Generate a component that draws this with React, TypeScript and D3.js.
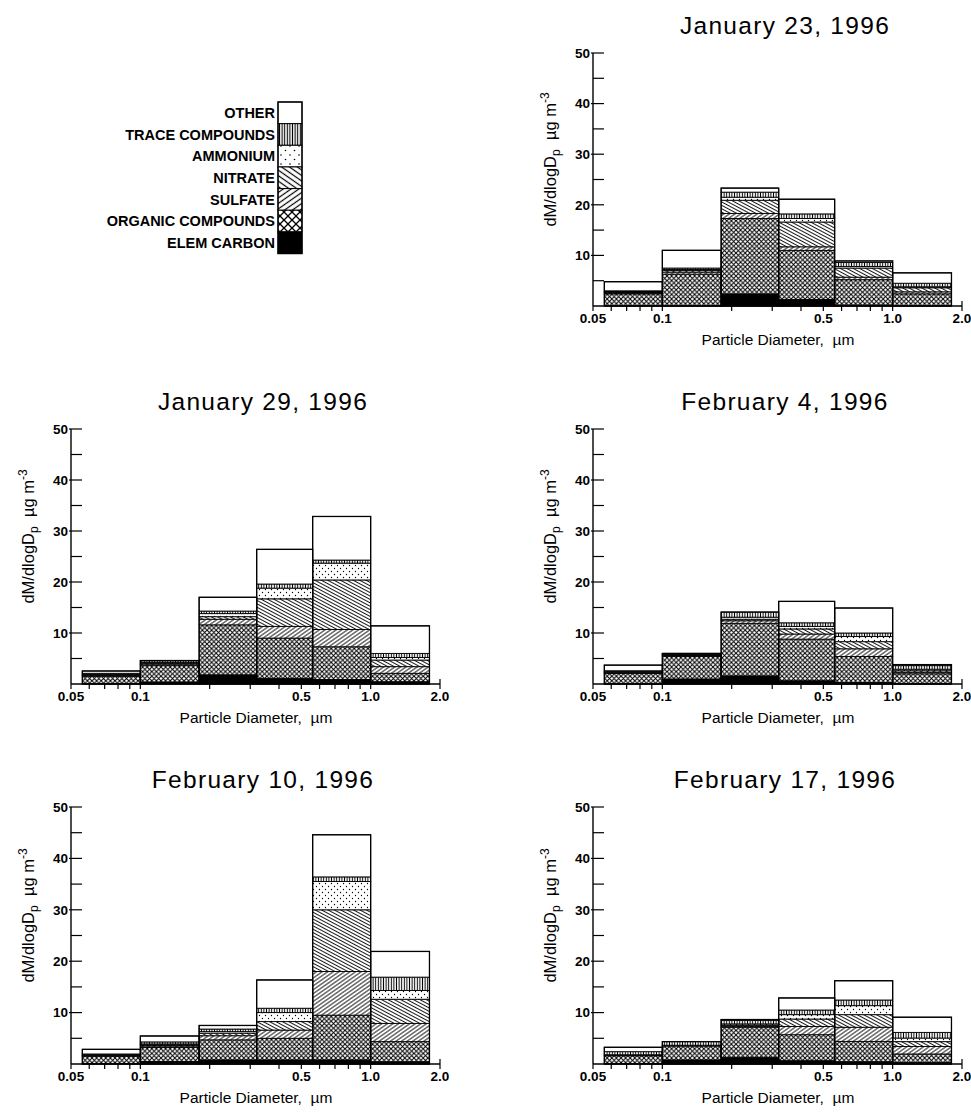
import React from "react";
import * as d3 from "d3";

// ---------- data ----------
const BIN_EDGES = [0.056, 0.1, 0.18, 0.32, 0.56, 1.0, 1.8];
const COMPONENTS = ["EC", "OC", "SO4", "NO3", "NH4", "TRACE", "OTHER"];
const LEGEND_LABELS = ["ELEM CARBON", "ORGANIC COMPOUNDS", "SULFATE", "NITRATE", "AMMONIUM", "TRACE COMPOUNDS", "OTHER"];
const X_MAJOR_TICKS = [0.05, 0.1, 0.5, 1.0, 2.0];
const X_MAJOR_LABELS = ["0.05", "0.1", "0.5", "1.0", "2.0"];
const X_MINOR_TICKS = [0.06, 0.07, 0.08, 0.09, 0.2, 0.3, 0.4, 0.6, 0.7, 0.8, 0.9];
const Y_TICKS = [5, 10, 15, 20, 25, 30, 35, 40, 45, 50];
const Y_LABELS = [10, 20, 30, 40, 50];
const TITLES = ["January 23, 1996", "January 29, 1996", "February 4, 1996", "February 10, 1996", "February 17, 1996"];

// rows: EC, OC, SO4, NO3, NH4, TRACE, OTHER ; columns: 6 size bins
const JAN23 = [
  [0.1, 0.1, 2.4, 1.3, 0.2, 0.1],
  [2.3, 6.2, 14.9, 9.7, 5.0, 2.3],
  [0.2, 0.4, 1.0, 0.7, 0.5, 0.4],
  [0.15, 0.3, 2.6, 4.9, 1.8, 0.8],
  [0.1, 0.2, 0.6, 0.7, 0.3, 0.2],
  [0.15, 0.3, 1.0, 0.9, 0.8, 0.7],
  [1.8, 3.5, 0.8, 2.9, 0.3, 2.05],
];
const JAN29 = [
  [0.1, 0.4, 1.8, 1.1, 0.9, 0.45],
  [1.4, 3.2, 9.8, 7.9, 6.4, 1.65],
  [0.2, 0.3, 1.1, 2.3, 3.4, 1.3],
  [0.1, 0.2, 0.5, 5.4, 9.7, 1.3],
  [0.1, 0.2, 0.6, 2.1, 3.3, 0.5],
  [0.2, 0.3, 0.5, 0.8, 0.6, 0.8],
  [0.45, 0, 2.7, 6.8, 8.55, 5.4],
];
const FEB04 = [
  [0.05, 1.0, 1.6, 0.65, 0.3, 0.1],
  [2.0, 4.4, 10.3, 8.15, 5.1, 1.9],
  [0.15, 0.2, 0.5, 1.0, 1.5, 0.3],
  [0.1, 0.1, 0.3, 1.0, 1.4, 0.3],
  [0.1, 0.1, 0.4, 0.5, 1.0, 0.3],
  [0.2, 0.2, 1.0, 0.7, 0.7, 0.7],
  [1.1, 0, 0, 4.2, 4.9, 0.2],
];
const FEB10 = [
  [0.1, 0.5, 0.8, 0.8, 0.8, 0.45],
  [1.4, 2.7, 3.9, 4.2, 8.7, 3.9],
  [0.1, 0.3, 0.8, 1.6, 8.5, 3.55],
  [0.1, 0.2, 0.5, 1.65, 12.0, 4.7],
  [0.05, 0.2, 0.3, 1.75, 5.5, 1.7],
  [0.2, 0.4, 0.5, 0.85, 0.9, 2.6],
  [0.9, 1.15, 0.7, 5.5, 8.2, 5.0],
];
const FEB17 = [
  [0.1, 0.8, 1.3, 0.65, 0.45, 0.3],
  [1.5, 2.7, 5.85, 5.05, 3.95, 1.65],
  [0.1, 0.05, 0.2, 1.6, 2.75, 1.45],
  [0.05, 0.05, 0.2, 1.45, 2.45, 0.95],
  [0.05, 0.05, 0.25, 0.85, 1.75, 0.7],
  [0.6, 0.7, 0.65, 0.9, 1.1, 1.1],
  [0.85, 0, 0.2, 2.35, 3.75, 2.95],
];
const DATASETS = [JAN23, JAN29, FEB04, FEB10, FEB17];

// ---------- layout ----------
const COL_X = [71, 593];
const ROW_TOP = [53, 429, 807];
const ROW_BOT = [306, 684, 1064];
const PANEL_POS = [
  [1, 0],
  [0, 1],
  [1, 1],
  [0, 2],
  [1, 2],
];
const AXIS_W = 369;
const FONT = "'Liberation Sans', Arial, Helvetica, sans-serif";

const PAT = ["pEC", "pOC", "pSO4", "pNO3", "pNH4", "pTR", "pOT"];
const PAT_L = ["pEC", "lOC", "lSO4", "lNO3", "lNH4", "lTR", "pOT"];

function Defs() {
  return (
    <defs>
      <pattern id="pEC" width="4" height="4" patternUnits="userSpaceOnUse">
        <rect width="4" height="4" fill="#000" />
      </pattern>
      <pattern id="pOT" width="4" height="4" patternUnits="userSpaceOnUse">
        <rect width="4" height="4" fill="#fff" />
      </pattern>
      <pattern id="pOC" width="4.6" height="4.6" patternUnits="userSpaceOnUse">
        <rect width="4.6" height="4.6" fill="#fff" />
        <path d="M0,0L4.6,4.6M4.6,0L0,4.6" stroke="#000" strokeWidth="1" />
      </pattern>
      <pattern id="pNO3" width="6" height="3" patternUnits="userSpaceOnUse" patternTransform="rotate(28)">
        <rect width="6" height="3" fill="#fff" />
        <path d="M0,1.5H6" stroke="#000" strokeWidth="0.9" />
      </pattern>
      <pattern id="pSO4" width="6" height="3.2" patternUnits="userSpaceOnUse" patternTransform="rotate(-35)">
        <rect width="6" height="3.2" fill="#fff" />
        <path d="M0,1.6H6" stroke="#000" strokeWidth="0.9" />
      </pattern>
      <pattern id="pNH4" width="6" height="6" patternUnits="userSpaceOnUse">
        <rect width="6" height="6" fill="#fff" />
        <circle cx="1.5" cy="1.5" r="0.65" fill="#000" />
        <circle cx="4.5" cy="4.5" r="0.65" fill="#000" />
      </pattern>
      <pattern id="pTR" width="2.6" height="6" patternUnits="userSpaceOnUse">
        <rect width="2.6" height="6" fill="#fff" />
        <path d="M1.3,0V6" stroke="#000" strokeWidth="1" />
      </pattern>
      {/* legend (larger) */}
      <pattern id="lOC" width="8" height="8" patternUnits="userSpaceOnUse">
        <rect width="8" height="8" fill="#fff" />
        <path d="M0,0L8,8M8,0L0,8" stroke="#000" strokeWidth="1.3" />
      </pattern>
      <pattern id="lNO3" width="8" height="4.5" patternUnits="userSpaceOnUse" patternTransform="rotate(35)">
        <rect width="8" height="4.5" fill="#fff" />
        <path d="M0,2.25H8" stroke="#000" strokeWidth="1.2" />
      </pattern>
      <pattern id="lSO4" width="8" height="4.5" patternUnits="userSpaceOnUse" patternTransform="rotate(-35)">
        <rect width="8" height="4.5" fill="#fff" />
        <path d="M0,2.25H8" stroke="#000" strokeWidth="1.2" />
      </pattern>
      <pattern id="lNH4" width="9" height="9" patternUnits="userSpaceOnUse">
        <rect width="9" height="9" fill="#fff" />
        <circle cx="2" cy="2" r="0.8" fill="#000" />
        <circle cx="6.5" cy="6.5" r="0.8" fill="#000" />
      </pattern>
      <pattern id="lTR" width="2.6" height="8" patternUnits="userSpaceOnUse">
        <rect width="2.6" height="8" fill="#fff" />
        <path d="M1.3,0V8" stroke="#000" strokeWidth="1.1" />
      </pattern>
    </defs>
  );
}

function Panel({ idx }: { idx: number }) {
  const [c, r] = PANEL_POS[idx];
  const x0 = COL_X[c];
  const yTop = ROW_TOP[r];
  const yBot = ROW_BOT[r];
  const data = DATASETS[idx];
  const x = d3.scaleLog().domain([0.05, 2]).range([x0, x0 + AXIS_W]);
  const y = d3.scaleLinear().domain([0, 50]).range([yBot, yTop]);

  const rows = BIN_EDGES.slice(0, -1).map((_, i) => {
    const o: any = { i };
    COMPONENTS.forEach((k, j) => (o[k] = data[j][i]));
    return o;
  });
  const series = d3.stack().keys(COMPONENTS)(rows);

  const xc = x0 + 192;
  const yMid = (yTop + yBot) / 2 - 20;
  const ylx = x0 - 37;

  return (
    <g>
      <text x={xc} y={yTop - 19} textAnchor="middle" fontFamily={FONT} fontSize={24.5} letterSpacing={1.3} fill="#000">
        {TITLES[idx]}
      </text>
      {/* bars */}
      {series.map((s, j) =>
        s.map((d, i) => {
          const h = y(d[0]) - y(d[1]);
          if (h <= 0.01) return null;
          return (
            <rect
              key={`${j}-${i}`}
              x={x(BIN_EDGES[i])}
              y={y(d[1])}
              width={x(BIN_EDGES[i + 1]) - x(BIN_EDGES[i])}
              height={h}
              fill={`url(#${PAT[j]})`}
              stroke="#000"
              strokeWidth={0.9}
            />
          );
        })
      )}
      {series[series.length - 1].map((d, i) => (
        <rect
          key={`o${i}`}
          x={x(BIN_EDGES[i])}
          y={y(d[1])}
          width={x(BIN_EDGES[i + 1]) - x(BIN_EDGES[i])}
          height={y(0) - y(d[1])}
          fill="none"
          stroke="#000"
          strokeWidth={1.3}
        />
      ))}
      {/* axes */}
      <line x1={x0} x2={x0} y1={yTop} y2={yBot} stroke="#000" strokeWidth={1.4} />
      <line x1={x0} x2={x0 + AXIS_W} y1={yBot} y2={yBot} stroke="#000" strokeWidth={1.4} />
      {Y_TICKS.map((t) => (
        <line key={`yt${t}`} x1={Y_LABELS.includes(t) ? x0 - 2 : x0} x2={x0 + 11} y1={y(t)} y2={y(t)} stroke="#000" strokeWidth={1.2} />
      ))}
      {Y_LABELS.map((t) => (
        <text key={`yl${t}`} x={x0 - 3} y={y(t)} dy="0.36em" textAnchor="end" fontFamily={FONT} fontWeight="bold" fontSize={13.5} fill="#000">
          {t}
        </text>
      ))}
      {X_MAJOR_TICKS.map((t) => (
        <line key={`xt${t}`} x1={x(t)} x2={x(t)} y1={yBot} y2={yBot + 5} stroke="#000" strokeWidth={1.2} />
      ))}
      <line x1={x(2)} x2={x(2)} y1={yBot} y2={yBot - 5} stroke="#000" strokeWidth={1.2} />
      {X_MINOR_TICKS.map((t) => (
        <line key={`xm${t}`} x1={x(t)} x2={x(t)} y1={yBot} y2={yBot + 5} stroke="#000" strokeWidth={1.2} />
      ))}
      {X_MAJOR_TICKS.map((t, k) => (
        <text key={`xl${t}`} x={x(t)} y={yBot + 17} textAnchor="middle" fontFamily={FONT} fontWeight="bold" fontSize={13.5} fill="#000">
          {X_MAJOR_LABELS[k]}
        </text>
      ))}
      <text x={x0 + 185} y={yBot + 39} textAnchor="middle" fontFamily={FONT} fontSize={15.5} fill="#000" xmlSpace="preserve">
        {"Particle Diameter,  \u00b5m"}
      </text>
      <text
        transform={`translate(${ylx},${yMid}) rotate(-90)`}
        textAnchor="middle"
        fontFamily={FONT}
        fontSize={16.5}
        fill="#000"
        xmlSpace="preserve"
      >
        <tspan>dM/dlogD</tspan>
        <tspan dy={4} fontSize={12}>p</tspan>
        <tspan dy={-4}>{"  \u00b5g m"}</tspan>
        <tspan dy={-7} fontSize={12}>-3</tspan>
      </text>
    </g>
  );
}

function Legend() {
  const bx = 278;
  const by = 102;
  const bh = 21.65;
  const order = [6, 5, 4, 3, 2, 1, 0];
  return (
    <g>
      {order.map((j, k) => (
        <g key={j}>
          <rect x={bx} y={by + k * bh} width={24} height={bh} fill={`url(#${PAT_L[j]})`} stroke="#000" strokeWidth={1} />
          <text x={bx - 3} y={by + k * bh + bh / 2} dy="0.36em" textAnchor="end" fontFamily={FONT} fontWeight="bold" fontSize={14.5} fill="#000">
            {LEGEND_LABELS[j]}
          </text>
        </g>
      ))}
      <rect x={bx} y={by} width={24} height={bh * 7} fill="none" stroke="#000" strokeWidth={1.3} />
    </g>
  );
}

export default function App() {
  return (
    <svg width={971} height={1112} style={{ position: "absolute", left: 0, top: 0, background: "#fff" }}>
      <Defs />
      <rect width={971} height={1112} fill="#fff" />
      <Legend />
      {DATASETS.map((_, i) => (
        <Panel key={i} idx={i} />
      ))}
    </svg>
  );
}
